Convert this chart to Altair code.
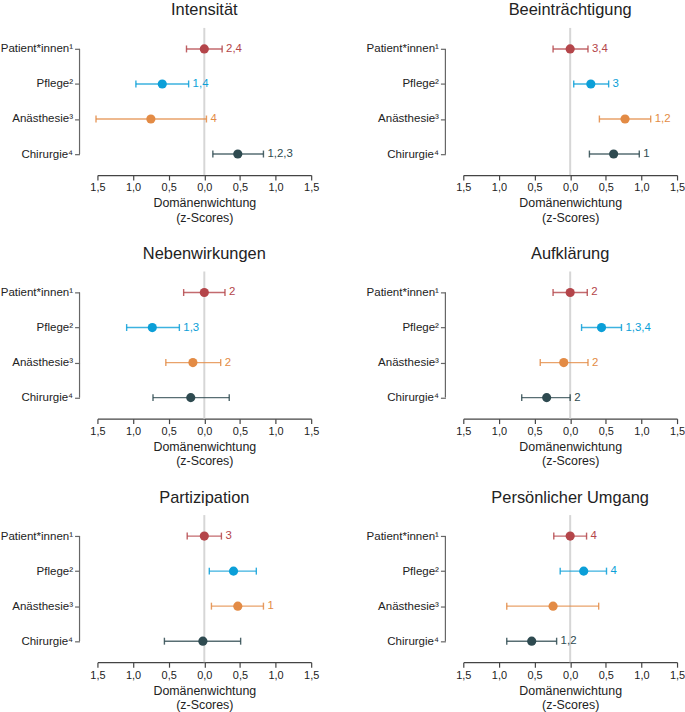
import altair as alt
import pandas as pd

FONT = "Liberation Sans"

domains = ["Intensität", "Beeinträchtigung", "Nebenwirkungen", "Aufklärung",
           "Partizipation", "Persönlicher Umgang"]
groups = ["Patient*innen¹", "Pflege²", "Anästhesie³", "Chirurgie⁴"]
colors = ["#b4454a", "#0b9fd8", "#e38b45", "#2e4a50"]

# point estimates per domain (order of groups)
means = {
    "Intensität":          [0.00, -0.59, -0.75, 0.47],
    "Beeinträchtigung":    [0.00, 0.29, 0.77, 0.61],
    "Nebenwirkungen":      [0.00, -0.73, -0.16, -0.19],
    "Aufklärung":          [0.00, 0.44, -0.09, -0.33],
    "Partizipation":       [0.00, 0.41, 0.47, -0.02],
    "Persönlicher Umgang": [0.00, 0.19, -0.24, -0.54],
}
lows = {
    "Intensität":          [-0.25, -0.96, -1.52, 0.12],
    "Beeinträchtigung":    [-0.24, 0.05, 0.41, 0.27],
    "Nebenwirkungen":      [-0.29, -1.09, -0.54, -0.72],
    "Aufklärung":          [-0.24, 0.16, -0.42, -0.68],
    "Partizipation":       [-0.24, 0.07, 0.10, -0.56],
    "Persönlicher Umgang": [-0.23, -0.14, -0.89, -0.89],
}
highs = {
    "Intensität":          [0.25, -0.22, 0.03, 0.83],
    "Beeinträchtigung":    [0.25, 0.54, 1.13, 0.97],
    "Nebenwirkungen":      [0.29, -0.35, 0.23, 0.35],
    "Aufklärung":          [0.24, 0.72, 0.25, 0.00],
    "Partizipation":       [0.24, 0.73, 0.83, 0.51],
    "Persönlicher Umgang": [0.23, 0.51, 0.40, -0.19],
}
sig_labels = {
    "Intensität":          ["2,4", "1,4", "4", "1,2,3"],
    "Beeinträchtigung":    ["3,4", "3", "1,2", "1"],
    "Nebenwirkungen":      ["2", "1,3", "2", ""],
    "Aufklärung":          ["2", "1,3,4", "2", "2"],
    "Partizipation":       ["3", "", "1", ""],
    "Persönlicher Umgang": ["4", "4", "", "1,2"],
}
x_ticks = [-1.5, -1.0, -0.5, 0.0, 0.5, 1.0, 1.5]

W, H = 215, 148
Y_OFFSET = 18

color_scale = alt.Scale(domain=groups, range=colors)
y_scale = alt.Scale(domain=groups, type="point", padding=0.6)
x_scale = alt.Scale(domain=[-1.5, 1.5], nice=False, zero=False)

y_axis = alt.Axis(title=None, domain=False, offset=Y_OFFSET,
                  tickSize=5, tickColor="#666", tickWidth=1.2,
                  labelPadding=2, labelFontSize=11.6,
                  labelColor="#222", labelFont=FONT)
x_axis = alt.Axis(values=x_ticks,
                  labelExpr="replace(format(abs(datum.value), '.1f'), '.', ',')",
                  title=["Domänenwichtung", "(z-Scores)"],
                  titleFontSize=12.5, titleFontWeight="normal",
                  titleColor="#222", titleFont=FONT, titlePadding=4,
                  labelFontSize=11, labelColor="#222", labelFont=FONT,
                  labelOverlap=False,
                  domainColor="#444", domainWidth=1.2, tickColor="#444",
                  tickWidth=1.2, tickSize=5, grid=False, labelFlush=False)


def panel(dom):
    df = pd.DataFrame({
        "group": groups,
        "mean": means[dom],
        "lo": lows[dom],
        "hi": highs[dom],
        "lab": sig_labels[dom],
    })
    base = alt.Chart(df)
    y_enc = alt.Y("group:N", scale=y_scale, sort=groups, axis=y_axis)
    col = alt.Color("group:N", scale=color_scale, legend=None)

    zero = alt.Chart(pd.DataFrame({"z": [0.0]})).mark_rule(
        color="#d6d6d6", strokeWidth=2).encode(
        x=alt.X("z:Q", scale=x_scale, axis=x_axis))

    ydomain = alt.Chart(pd.DataFrame({"a": [groups[0]], "b": [groups[-1]]})).mark_rule(
        color="#666", strokeWidth=1.2).encode(
        y=alt.Y("a:N", scale=y_scale, sort=groups, axis=y_axis),
        y2="b:N",
        x=alt.value(-Y_OFFSET))

    bars = base.mark_rule(strokeWidth=1.4, opacity=0.8).encode(
        x=alt.X("lo:Q", scale=x_scale, axis=x_axis), x2="hi:Q", y=y_enc, color=col)
    cap_lo = base.mark_tick(size=7, thickness=1.4, opacity=0.85).encode(
        x=alt.X("lo:Q", scale=x_scale, axis=x_axis), y=y_enc, color=col)
    cap_hi = base.mark_tick(size=7, thickness=1.4, opacity=0.85).encode(
        x=alt.X("hi:Q", scale=x_scale, axis=x_axis), y=y_enc, color=col)
    pts = base.mark_circle(size=85, opacity=1).encode(
        x=alt.X("mean:Q", scale=x_scale, axis=x_axis), y=y_enc, color=col)
    txt = base.mark_text(align="left", baseline="middle", dx=4, fontSize=11.5,
                         font=FONT).encode(
        x=alt.X("hi:Q", scale=x_scale, axis=x_axis), y=y_enc, text="lab:N",
        color=col)

    return alt.layer(zero, ydomain, bars, cap_lo, cap_hi, pts, txt).properties(
        width=W, height=H,
        title=alt.TitleParams(dom, fontSize=16.5, fontWeight="normal", font=FONT,
                              color="#222", anchor="middle", frame="group",
                              offset=8))


chart = alt.concat(*[panel(d) for d in domains], columns=2,
                   spacing={"row": 22, "column": 47}).properties(
    padding={"left": 0, "top": 0, "right": 0, "bottom": 0}
).configure_view(stroke=None)

chart.save("out.html", embed_options={"renderer": "svg", "actions": False})
